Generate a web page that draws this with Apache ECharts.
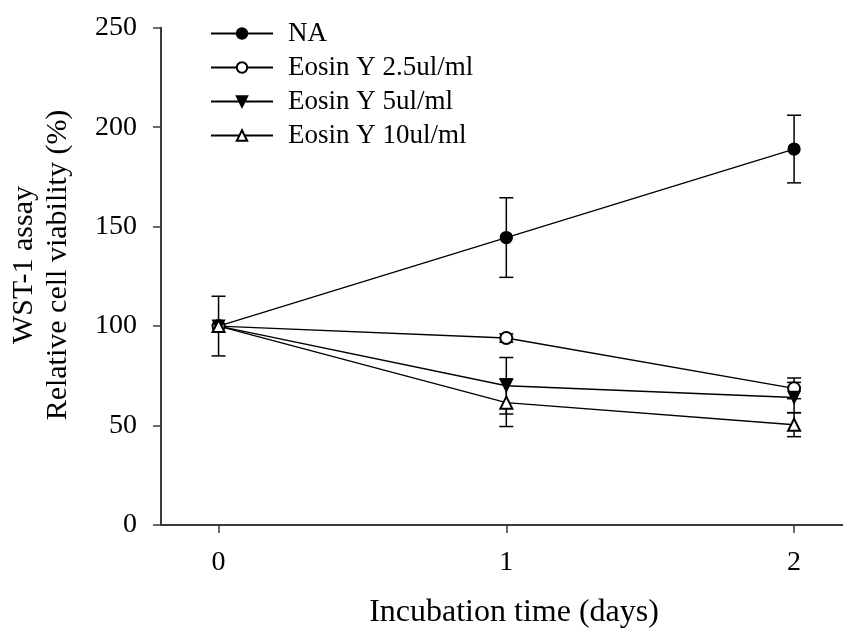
<!DOCTYPE html>
<html>
<head>
<meta charset="utf-8">
<script src="https://cdn.jsdelivr.net/npm/echarts@6/dist/echarts.min.js"></script>
<style>
  html, body { margin: 0; padding: 0; background: #fff; }
  #chart { width: 843px; height: 635px; }
</style>
</head>
<body>
<div id="chart"></div>
<script>
// incubation days
var days = [0, 1, 2];
var xTicks = [0, 1, 2];
var yTicks = [0, 50, 100, 150, 200, 250];

var seriesNames = ['NA', 'Eosin Y 2.5ul/ml', 'Eosin Y 5ul/ml', 'Eosin Y 10ul/ml'];

// mean relative viability (%) and error (+/-)
var naMean = [100, 144.5, 189];
var naErr = [15, 20, 17];
var eos25Mean = [100, 94, 68.7];
var eos25Err = [0, 2.1, 5.2];
var eos5Mean = [100, 70, 64.1];
var eos5Err = [0, 14.2, 7.6];
var eos10Mean = [100, 61.5, 50.4];
var eos10Err = [0, 12, 6];

var means = [naMean, eos25Mean, eos5Mean, eos10Mean];
var errs = [naErr, eos25Err, eos5Err, eos10Err];
var symbols = ['circle', 'emptyCircle', 'triangle', 'emptyTriangle'];
var rotates = [0, 0, 180, 0];

var FONT = '"Liberation Serif", "Times New Roman", serif';

var chart = echarts.init(document.getElementById('chart'));

function errorBar(params, api) {
    var x = api.value(0);
    var lo = api.coord([x, api.value(1)]);
    var hi = api.coord([x, api.value(2)]);
    var w = 7;
    var style = { stroke: '#000', lineWidth: 1.5 };
    return {
        type: 'group',
        children: [
            { type: 'line', shape: { x1: hi[0], y1: hi[1], x2: lo[0], y2: lo[1] }, style: style },
            { type: 'line', shape: { x1: hi[0] - w, y1: hi[1], x2: hi[0] + w, y2: hi[1] }, style: style },
            { type: 'line', shape: { x1: lo[0] - w, y1: lo[1], x2: lo[0] + w, y2: lo[1] }, style: style }
        ]
    };
}

var series = [];
seriesNames.forEach(function (name, i) {
    var bars = [];
    days.forEach(function (d, j) {
        if (errs[i][j] > 0) bars.push([d, means[i][j] - errs[i][j], means[i][j] + errs[i][j]]);
    });
    series.push({
        name: name + ' err',
        type: 'custom',
        renderItem: errorBar,
        data: bars,
        z: 1,
        silent: true
    });
    series.push({
        name: name,
        type: 'line',
        data: days.map(function (d, j) { return [d, means[i][j]]; }),
        symbol: symbols[i],
        symbolSize: 12,
        symbolRotate: rotates[i],
        showAllSymbol: true,
        lineStyle: { color: '#000', width: 1.3 },
        itemStyle: { color: '#000', borderColor: '#000', borderWidth: 1.3 },
        z: 3
    });
});

var option = {
    animation: false,
    backgroundColor: '#fff',
    textStyle: { fontFamily: FONT, color: '#000' },
    grid: { left: 161, right: 0, top: 27.7, bottom: 110, containLabel: false, outerBoundsMode: 'none' },
    legend: {
        data: seriesNames,
        orient: 'vertical',
        left: 210,
        top: 20,
        padding: 0,
        itemWidth: 62,
        itemHeight: 13,
        itemGap: 7,
        textStyle: { fontFamily: FONT, fontSize: 27, lineHeight: 26, color: '#000', padding: [0, 0, 0, 10] },
        inactiveColor: '#000'
    },
    xAxis: {
        type: 'value',
        min: -0.2,
        max: 2.17,
        name: 'Incubation time (days)',
        nameLocation: 'middle',
        nameGap: 72,
        nameTextStyle: { fontFamily: FONT, fontSize: 32, color: '#000', padding: [0, 0, 0, 24] },
        axisLine: { onZero: false, lineStyle: { color: '#3a3a3a', width: 2 } },
        axisTick: { show: true, inside: false, length: 8, customValues: xTicks, lineStyle: { color: '#3a3a3a', width: 1.5 } },
        axisLabel: { customValues: xTicks, fontFamily: FONT, fontSize: 28, color: '#000', margin: 24 },
        splitLine: { show: false }
    },
    yAxis: {
        type: 'value',
        min: 0,
        max: 250,
        interval: 50,
        axisLine: { show: true, onZero: false, lineStyle: { color: '#3a3a3a', width: 2 } },
        axisTick: { show: true, inside: false, length: 8, lineStyle: { color: '#3a3a3a', width: 1.5 } },
        axisLabel: { fontFamily: FONT, fontSize: 28, color: '#000', margin: 24 },
        splitLine: { show: false }
    },
    graphic: [{
        type: 'text',
        x: 41,
        y: 265,
        rotation: Math.PI / 2,
        style: {
            text: 'WST-1 assay\nRelative cell viability (%)',
            fontFamily: FONT,
            fontSize: 30,
            lineHeight: 34,
            align: 'center',
            verticalAlign: 'middle',
            fill: '#000'
        }
    }],
    series: series
};

chart.setOption(option);
</script>
</body>
</html>
